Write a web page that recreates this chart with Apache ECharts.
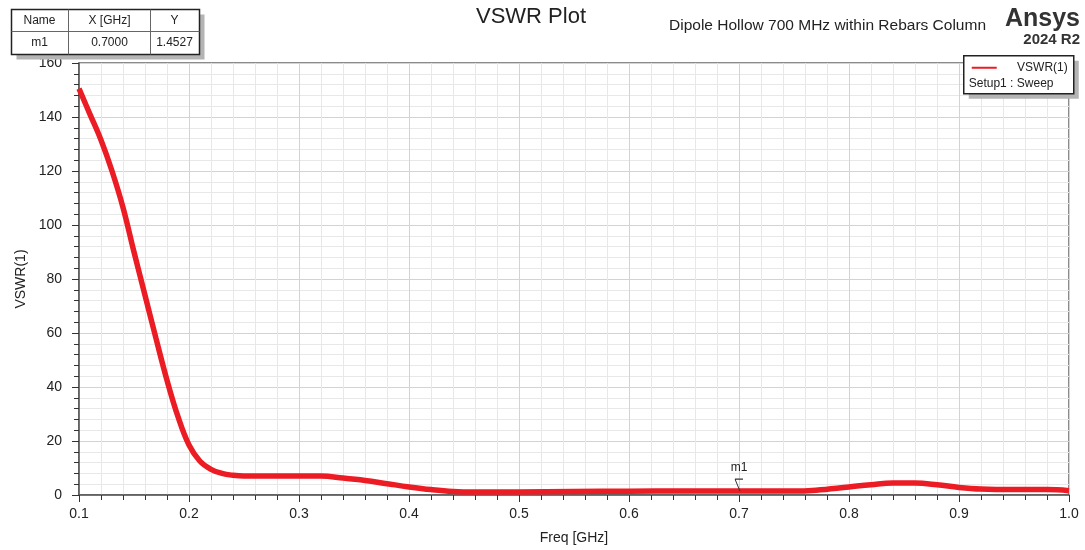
<!DOCTYPE html>
<html>
<head>
<meta charset="utf-8">
<script src="https://cdn.jsdelivr.net/npm/echarts@6/dist/echarts.min.js"></script>
<style>
  html, body { margin: 0; padding: 0; background: #fff; }
  #main { width: 1085px; height: 550px; }
</style>
</head>
<body>
<div id="main"></div>
<script>
// frequency (GHz) and VSWR
var freq = [0.10, 0.11, 0.12, 0.13, 0.14, 0.15, 0.16, 0.17, 0.18, 0.19,
            0.20, 0.21, 0.22, 0.23, 0.24, 0.25, 0.28, 0.32, 0.34, 0.36,
            0.38, 0.40, 0.42, 0.44, 0.46, 0.50, 0.55, 0.60, 0.65, 0.70,
            0.75, 0.77, 0.80, 0.82, 0.84, 0.86, 0.88, 0.90, 0.92, 0.95,
            0.98, 1.00];
var vswr = [150.5, 141, 131.5, 120, 106.5, 90, 74, 58, 42.5, 29,
            18.5, 12.5, 9.5, 8, 7.3, 7, 7, 7, 6.3, 5.4,
            4.2, 3, 2, 1.3, 1.1, 1.15, 1.3, 1.4, 1.45, 1.4527,
            1.45, 1.8, 3, 3.8, 4.4, 4.4, 3.8, 2.8, 2.2, 2.0,
            2.0, 1.6];

// marker table
var markerName = 'm1';
var markerX = 0.7;
var markerY = 1.4527;

var fontFam = '"Liberation Sans", Arial, sans-serif';

var points = [];
for (var i = 0; i < freq.length; i++) {
    points.push([freq[i], vswr[i]]);
}

var chart = echarts.init(document.getElementById('main'));

var option = {
    backgroundColor: '#fff',
    animation: false,
    textStyle: { fontFamily: fontFam },
    grid: {
        left: 79, right: 16, top: 63, bottom: 54,
        show: true, borderColor: '#666', borderWidth: 1.5
    },
    xAxis: {
        type: 'value',
        min: 0.1, max: 1.0, interval: 0.1,
        name: 'Freq [GHz]',
        nameLocation: 'middle',
        nameGap: 36,
        nameTextStyle: { fontSize: 14, color: '#222' },
        axisLine: { lineStyle: { color: '#555', width: 1.5 } },
        axisTick: { length: 7, lineStyle: { color: '#333' } },
        minorTick: { show: true, splitNumber: 5, length: 5, lineStyle: { color: '#333' } },
        axisLabel: {
            fontSize: 14, color: '#222', margin: 12,
            formatter: function (v) { return v.toFixed(1); }
        },
        splitLine: { lineStyle: { color: '#d3d3d3' } },
        minorSplitLine: { show: true, lineStyle: { color: '#e8e8e8' } }
    },
    yAxis: {
        type: 'value',
        min: 0, max: 160, interval: 20,
        name: 'VSWR(1)',
        nameLocation: 'middle',
        nameGap: 50,
        nameTextStyle: { fontSize: 14, color: '#222' },
        axisLine: { show: true, lineStyle: { color: '#555', width: 1.5 } },
        axisTick: { show: true, length: 7, lineStyle: { color: '#333' } },
        minorTick: { show: true, splitNumber: 5, length: 5, lineStyle: { color: '#333' } },
        axisLabel: { fontSize: 14, color: '#222', margin: 17 },
        splitLine: { lineStyle: { color: '#d3d3d3' } },
        minorSplitLine: { show: true, lineStyle: { color: '#e8e8e8' } }
    },
    series: [{
        name: 'VSWR(1)',
        type: 'line',
        data: points,
        smooth: 0.4,
        showSymbol: false,
        lineStyle: { color: '#ec1c24', width: 5.5 },
        itemStyle: { color: '#ec1c24' },
        markPoint: {
            symbol: 'path://M0,0 L8,0 M0,0 L5,12',
            symbolSize: [8, 12],
            symbolOffset: [0, -6],
            itemStyle: { color: 'none', borderColor: '#333', borderWidth: 1 },
            label: {
                show: true, position: 'top', distance: 2,
                formatter: markerName, fontSize: 12, color: '#222'
            },
            data: [{ coord: [markerX, markerY] }]
        }
    }],
    graphic: [
        // title block
        { type: 'text', left: 476, top: 6, z: 100,
          style: { text: 'VSWR Plot', font: '22px ' + fontFam, fill: '#222' } },
        { type: 'text', left: 669, top: 18, z: 100,
          style: { text: 'Dipole Hollow 700 MHz within Rebars Column', font: '15.5px ' + fontFam, fill: '#222' } },
        { type: 'text', right: 5, top: 7, z: 100,
          style: { text: 'Ansys', font: 'bold 25px ' + fontFam, fill: '#333' } },
        { type: 'text', right: 5, top: 32, z: 100,
          style: { text: '2024 R2', font: 'bold 15px ' + fontFam, fill: '#333' } },
        // marker table
        { type: 'group', left: 9, top: 7, z: 100, children: [
            { type: 'rect', z: 100, shape: { x: 5, y: 5, width: 188, height: 45 }, style: { fill: '#b4b4b4' } },
            { type: 'rect', z: 101, shape: { x: 0, y: 0, width: 188, height: 45 }, style: { fill: '#fff', stroke: '#222', lineWidth: 1.5 } },
            { type: 'line', z: 102, shape: { x1: 0, y1: 22, x2: 188, y2: 22 }, style: { stroke: '#666', lineWidth: 1 } },
            { type: 'line', z: 102, shape: { x1: 57, y1: 0, x2: 57, y2: 45 }, style: { stroke: '#666', lineWidth: 1 } },
            { type: 'line', z: 102, shape: { x1: 139, y1: 0, x2: 139, y2: 45 }, style: { stroke: '#666', lineWidth: 1 } },
            { type: 'text', z: 103, x: 28, y: 11, style: { text: 'Name', font: '12px ' + fontFam, fill: '#222', align: 'center', verticalAlign: 'middle' } },
            { type: 'text', z: 103, x: 98, y: 11, style: { text: 'X [GHz]', font: '12px ' + fontFam, fill: '#222', align: 'center', verticalAlign: 'middle' } },
            { type: 'text', z: 103, x: 163, y: 11, style: { text: 'Y', font: '12px ' + fontFam, fill: '#222', align: 'center', verticalAlign: 'middle' } },
            { type: 'text', z: 103, x: 28, y: 33, style: { text: markerName, font: '12px ' + fontFam, fill: '#222', align: 'center', verticalAlign: 'middle' } },
            { type: 'text', z: 103, x: 98, y: 33, style: { text: markerX.toFixed(4), font: '12px ' + fontFam, fill: '#222', align: 'center', verticalAlign: 'middle' } },
            { type: 'text', z: 103, x: 163, y: 33, style: { text: markerY.toFixed(4), font: '12px ' + fontFam, fill: '#222', align: 'center', verticalAlign: 'middle' } }
        ]},
        // legend box
        { type: 'group', left: 963, top: 55, z: 100, children: [
            { type: 'rect', z: 100, shape: { x: 5, y: 5, width: 110, height: 38 }, style: { fill: '#b4b4b4' } },
            { type: 'rect', z: 101, shape: { x: 0, y: 0, width: 110, height: 38 }, style: { fill: '#fff', stroke: '#222', lineWidth: 1.5 } },
            { type: 'line', z: 102, shape: { x1: 8, y1: 12, x2: 33, y2: 12 }, style: { stroke: '#ec1c24', lineWidth: 2 } },
            { type: 'text', z: 103, x: 104, y: 12, style: { text: 'VSWR(1)', font: '12px ' + fontFam, fill: '#222', align: 'right', verticalAlign: 'middle' } },
            { type: 'text', z: 103, x: 5, y: 28, style: { text: 'Setup1 : Sweep', font: '12px ' + fontFam, fill: '#222', align: 'left', verticalAlign: 'middle' } }
        ]}
    ]
};

chart.setOption(option);
</script>
</body>
</html>
